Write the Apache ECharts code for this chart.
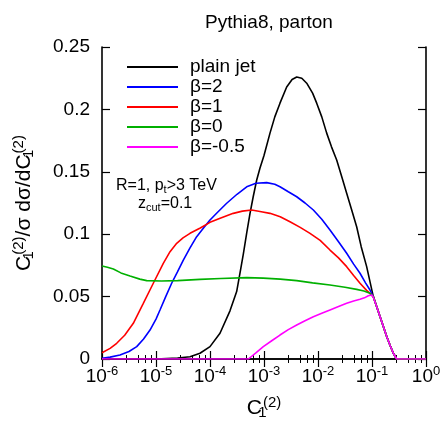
<!DOCTYPE html>
<html>
<head>
<meta charset="utf-8">
<script src="https://cdn.jsdelivr.net/npm/echarts@6/dist/echarts.min.js"></script>
<style>
html,body{margin:0;padding:0;background:#fff;}
#chart{width:442px;height:421px;}
</style>
</head>
<body>
<div id="chart"></div>
<script>
// ---- data (x stored as log10 of C1^(2), y = C1/sigma dsigma/dC1) ----
const seriesNames = ['plain jet', 'β=2', 'β=1', 'β=0', 'β=-0.5'];
const seriesColors = ['#000000', '#0000ff', '#ff0000', '#00b000', '#ff00ff'];

const plainJetLogX = [-6.0,-5.0,-4.6,-4.37,-4.185,-4.0,-3.815,-3.63,-3.506,-3.444,-3.383,-3.32,-3.259,-3.2,-3.135,-3.074,-3.0,-2.889,-2.8,-2.704,-2.58,-2.48,-2.394,-2.3,-2.209,-2.1,-2.024,-1.93,-1.839,-1.75,-1.654,-1.56,-1.469,-1.38,-1.284,-1.2,-1.099,-0.976,-0.914,-0.852,-0.79,-0.728,-0.666,-0.605,-0.543,0];
const plainJetY    = [0,0,0.0008,0.0018,0.0046,0.0099,0.0206,0.0386,0.054,0.069,0.084,0.101,0.1167,0.13,0.1434,0.153,0.163,0.181,0.194,0.205,0.218,0.224,0.226,0.225,0.221,0.213,0.205,0.194,0.181,0.170,0.1595,0.146,0.1328,0.120,0.106,0.090,0.074,0.050,0.042,0.034,0.026,0.018,0.011,0.0046,0,0];

const beta2LogX = [-6.0,-5.85,-5.667,-5.5,-5.357,-5.23,-5.111,-5.0,-4.926,-4.82,-4.71,-4.6,-4.494,-4.37,-4.247,-4.12,-4.0,-3.85,-3.691,-3.5,-3.32,-3.15,-2.95,-2.8,-2.704,-2.55,-2.394,-2.24,-2.086,-1.93,-1.778,-1.62,-1.469,-1.34,-1.222,-1.12,-1.037,-0.976,-0.914,-0.852,-0.79,-0.728,-0.666,-0.605,-0.543,0];
const beta2Y    = [0.0006,0.0015,0.0032,0.006,0.0099,0.016,0.0232,0.032,0.0393,0.050,0.0607,0.070,0.0793,0.089,0.098,0.105,0.1114,0.118,0.1248,0.132,0.138,0.1408,0.1413,0.140,0.138,0.134,0.130,0.125,0.1194,0.112,0.1034,0.094,0.0847,0.076,0.0687,0.061,0.0553,0.050,0.042,0.034,0.026,0.018,0.011,0.0046,0,0];

const beta1LogX = [-6.0,-5.85,-5.728,-5.58,-5.42,-5.235,-5.05,-4.865,-4.74,-4.617,-4.5,-4.37,-4.18,-4.0,-3.8,-3.569,-3.4,-3.228,-3.05,-2.889,-2.7,-2.519,-2.33,-2.148,-1.96,-1.778,-1.62,-1.469,-1.34,-1.222,-1.1,-1.037,-0.976,-0.914,-0.852,-0.79,-0.728,-0.666,-0.605,-0.543,0];
const beta1Y    = [0.005,0.0085,0.0126,0.019,0.0286,0.0446,0.0607,0.0767,0.086,0.0927,0.097,0.1007,0.105,0.1095,0.113,0.1167,0.1185,0.1194,0.118,0.1167,0.114,0.110,0.1055,0.1007,0.095,0.0873,0.081,0.074,0.067,0.0607,0.055,0.0526,0.050,0.042,0.034,0.026,0.018,0.011,0.0046,0,0];

const beta0LogX = [-6.0,-5.9,-5.79,-5.65,-5.481,-5.3,-5.172,-4.9,-4.6,-4.185,-3.8,-3.32,-3.013,-2.7,-2.394,-2.1,-1.778,-1.5,-1.284,-1.15,-1.037,-0.976,-0.914,-0.852,-0.79,-0.728,-0.666,-0.605,-0.543,0];
const beta0Y    = [0.0745,0.0735,0.0721,0.069,0.0665,0.064,0.0628,0.0625,0.0628,0.0638,0.0645,0.0652,0.0648,0.064,0.0628,0.061,0.0593,0.0575,0.0558,0.0545,0.0526,0.050,0.042,0.034,0.026,0.018,0.011,0.0046,0,0];

const betaM05LogX = [-6.0,-3.29,-3.15,-3.013,-2.85,-2.704,-2.55,-2.394,-2.24,-2.086,-1.93,-1.778,-1.62,-1.469,-1.34,-1.222,-1.14,-1.068,-1.006,-0.976,-0.914,-0.852,-0.79,-0.728,-0.666,-0.605,-0.543,0];
const betaM05Y    = [0,0,0.005,0.0099,0.0148,0.0192,0.0235,0.0272,0.0307,0.0339,0.0367,0.0393,0.042,0.0446,0.0465,0.0478,0.049,0.0507,0.0513,0.0495,0.042,0.034,0.026,0.018,0.011,0.0046,0,0];

const xTickExponents = ['-6','-5','-4','-3','-2','-1','0'];
const yTickLabels = ['0','0.05','0.1','0.15','0.2','0.25'];

// ---- build ----
const allLogX = [plainJetLogX, beta2LogX, beta1LogX, beta0LogX, betaM05LogX];
const allY = [plainJetY, beta2Y, beta1Y, beta0Y, betaM05Y];
const FONT = "'Liberation Sans', Arial, Helvetica, sans-serif";

const series = seriesNames.map((name, i) => ({
  name: name,
  type: 'line',
  xAxisIndex: 0,
  yAxisIndex: 0,
  symbol: 'none',
  smooth: false,
  animation: false,
  lineStyle: { color: seriesColors[i], width: 1.6 },
  itemStyle: { color: seriesColors[i] },
  data: allLogX[i].map((lx, k) => [Math.pow(10, lx), allY[i][k]])
}));

const chart = echarts.init(document.getElementById('chart'), null, { renderer: 'canvas' });

const axisLine = { show: true, lineStyle: { color: '#000', width: 1.6 } };
const xTick = { show: true, inside: true, length: 8, lineStyle: { color: '#000', width: 1.2 } };
const xMinor = { show: true, splitNumber: 5, length: 4, lineStyle: { color: '#000', width: 1 } };
const yTick = { show: true, inside: true, length: 8, lineStyle: { color: '#000', width: 1.2 } };

const supRich = {
  base: { fontSize: 19, fontFamily: FONT, color: '#000' },
  sup: { fontSize: 13, fontFamily: FONT, color: '#000', padding: [0, 0, 10, 0] }
};
const nameRich = {
  base: { fontSize: 21, fontFamily: FONT, color: '#000' },
  sup: { fontSize: 15, fontFamily: FONT, color: '#000', padding: [0, 0, 11, 0] },
  sub: { fontSize: 15, fontFamily: FONT, color: '#000', padding: [10, 0, 0, 0], width: 1 }
};

chart.setOption({
  backgroundColor: '#fff',
  animation: false,
  textStyle: { fontFamily: FONT },
  title: {
    text: 'Pythia8, parton',
    left: 264,
    top: 8,
    textAlign: 'center',
    textStyle: { fontSize: 19, fontWeight: 'normal', color: '#000', fontFamily: FONT }
  },
  grid: { left: 102, right: 16, top: 47, bottom: 62, containLabel: false, outerBoundsMode: 'none' },
  legend: {
    orient: 'vertical',
    left: 127,
    top: 57,
    padding: 0,
    icon: 'rect',
    itemWidth: 51,
    itemHeight: 2,
    itemGap: 0,
    data: seriesNames,
    textStyle: { fontSize: 19, lineHeight: 20, color: '#000', fontFamily: FONT, padding: [0, 0, 0, 7] }
  },
  xAxis: [
    {
      type: 'log', logBase: 10, min: 1e-6, max: 1, position: 'bottom',
      axisLine: axisLine, axisTick: xTick, minorTick: xMinor,
      splitLine: { show: false }, minorSplitLine: { show: false },
      axisLabel: {
        margin: 6,
        formatter: function (v) {
          const e = Math.round(Math.log10(v));
          return '{base|10}{sup|' + xTickExponents[e + 6] + '}';
        },
        rich: supRich
      },
      name: '{base|C}{sub|1}{sup|(2)}',
      nameLocation: 'middle',
      nameGap: 36,
      nameTextStyle: { rich: nameRich }
    },
    {
      type: 'log', logBase: 10, min: 1e-6, max: 1, position: 'top',
      axisLine: axisLine, axisTick: xTick, minorTick: xMinor,
      splitLine: { show: false }, axisLabel: { show: false }
    }
  ],
  yAxis: [
    {
      type: 'value', min: 0, max: 0.25, interval: 0.05, position: 'left',
      axisLine: axisLine, axisTick: yTick, splitLine: { show: false },
      axisLabel: {
        margin: 12, fontSize: 19, color: '#000', fontFamily: FONT,
        formatter: function (v) { return yTickLabels[Math.round(v / 0.05)]; }
      },
      name: '{base|C}{sub|1}{sup|(2)}{base|/σ dσ/dC}{sub|1}{sup|(2)}',
      nameLocation: 'middle',
      nameRotate: 90,
      nameGap: 65,
      nameTextStyle: { rich: nameRich }
    },
    {
      type: 'value', min: 0, max: 0.25, interval: 0.05, position: 'right',
      axisLine: axisLine, axisTick: yTick, splitLine: { show: false },
      axisLabel: { show: false }
    }
  ],
  graphic: [
    {
      type: 'text', left: 116, top: 178,
      style: {
        text: '{b|R=1, p}{s|t}{b|>3 TeV}',
        rich: {
          b: { fontSize: 16, fontFamily: FONT, fill: '#000', color: '#000' },
          s: { fontSize: 11, fontFamily: FONT, fill: '#000', color: '#000', padding: [7, 0, 0, 0] }
        }
      }
    },
    {
      type: 'text', left: 138, top: 196,
      style: {
        text: '{b|z}{s|cut}{b|=0.1}',
        rich: {
          b: { fontSize: 16, fontFamily: FONT, fill: '#000', color: '#000' },
          s: { fontSize: 11, fontFamily: FONT, fill: '#000', color: '#000', padding: [7, 0, 0, 0] }
        }
      }
    }
  ],
  series: series
});
</script>
</body>
</html>
